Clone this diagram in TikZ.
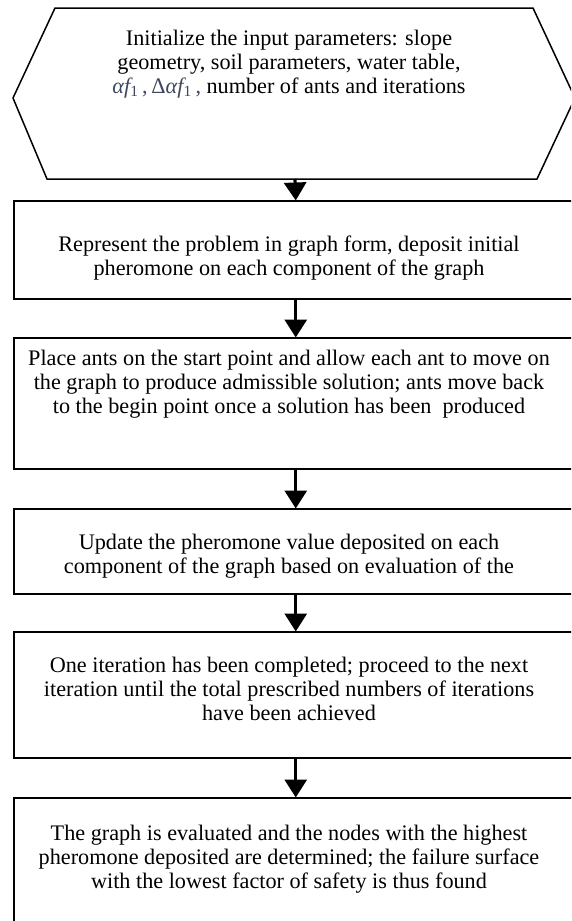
\documentclass[tikz,border=0pt]{standalone}
\usepackage{fontspec}
\setmainfont{Liberation Serif}
\usetikzlibrary{arrows.meta}
\definecolor{formula}{rgb}{0.25,0.28,0.38}
\begin{document}
\begin{tikzpicture}[x=1pt,y=1pt,
  outline/.style={line width=1.5pt, line join=miter},
  box/.style={draw, outline, anchor=north west, minimum width=564pt, inner sep=0pt},
  txt/.style={font=\fontsize{22.2}{24}\selectfont, align=center, inner sep=0pt},
  arr/.style={line width=3.2pt, -{Triangle[width=22pt,length=18pt]}, shorten >=-0.5pt}]
\useasboundingbox (0,0) rectangle (571,-921);
\clip (0,0) rectangle (571,-921);
\fill[white] (0,0) rectangle (571,-921);

% hexagon (start)
\coordinate (hL) at (13,-98);
\coordinate (hTL) at (55,-8);
\coordinate (hTR) at (533,-8);
\coordinate (hR) at (575,-98);
\coordinate (hBR) at (537,-179);
\coordinate (hBL) at (47,-179);
\coordinate (hbot) at (295,-179);
\draw[outline] (hL) -- (hTL) -- (hTR) -- (hR) -- (hBR) -- (hBL) -- cycle;
\node[txt] (t1) at (289,-64) {Initialize the input parameters: slope\\
geometry, soil parameters, water table,\\
{\color{formula}{\itshape αf}\textsubscript{1}\,,\,Δ{\itshape αf}\textsubscript{1}\,,} number of ants and iterations};

% boxes
\node[box, minimum height=98pt] (b2) at (13,-200) {};
\node[txt] (t2) at (289,-258) {Represent the problem in graph form, deposit initial\\
pheromone on each component of the graph};

\node[box, minimum height=131pt] (b3) at (13,-337) {};
\node[txt] (t3) at (289,-384) {Place ants on the start point and allow each ant to move on\\
the graph to produce admissible solution; ants move back\\
to the begin point once a solution has been\ \ produced};

\node[box, minimum height=85pt] (b4) at (13,-508) {};
\node[txt] (t4) at (289,-556) {Update the pheromone value deposited on each\\
component of the graph based on evaluation of the};

\node[box, minimum height=126pt] (b5) at (13,-631) {};
\node[txt] (t5) at (289,-689) {One iteration has been completed; proceed to the next\\
iteration until the total prescribed numbers of iterations\\
have been achieved};

\node[box, minimum height=160pt] (b6) at (13,-797) {};
\node[txt] (t6) at (289,-859) {The graph is evaluated and the nodes with the highest\\
pheromone deposited are determined; the failure surface\\
with the lowest factor of safety is thus found};

% connectors
\draw[arr] (hbot) -- (b2.north);
\draw[arr] (b2.south) -- (b3.north);
\draw[arr] (b3.south) -- (b4.north);
\draw[arr] (b4.south) -- (b5.north);
\draw[arr] (b5.south) -- (b6.north);
\end{tikzpicture}
\end{document}
